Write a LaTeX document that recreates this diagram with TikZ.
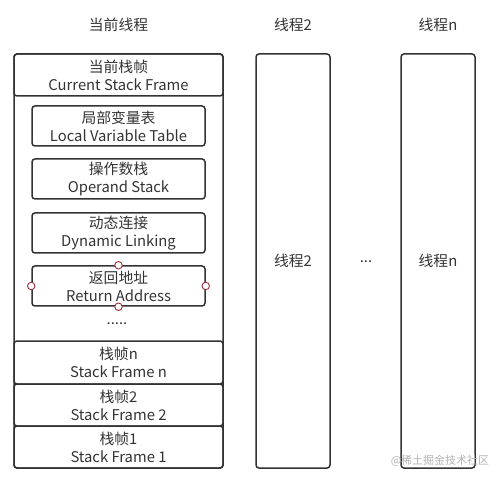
\documentclass[tikz,border=0pt]{standalone}
\usepackage{fontspec}
\setmainfont{Noto Sans CJK SC}
\definecolor{ln}{HTML}{333333}
\definecolor{hd}{HTML}{A0303F}
\begin{document}
\begin{tikzpicture}[x=1pt,y=-1pt,
  box/.style={draw=ln,line width=1.5pt,rounded corners=3pt,text=ln,align=center,inner sep=0pt,
    font=\fontsize{14.8}{18}\selectfont},
  lbl/.style={text=ln,font=\fontsize{14.8}{18}\selectfont,inner sep=0pt},
  handle/.style={circle,draw=hd,fill=white,line width=0.9pt,minimum size=7.5pt,inner sep=0pt}]
\useasboundingbox (0,0) rectangle (501,481);
% container
\node[box,minimum width=209pt,minimum height=414pt] (stack) at (118.5,261) {};
\node[box,minimum width=209pt,minimum height=42pt] (cur) at (118.5,75) {当前栈帧\\Current Stack Frame};
\node[box,minimum width=173pt,minimum height=40pt] (lvt) at (118.5,126) {局部变量表\\Local Variable Table};
\node[box,minimum width=173pt,minimum height=40pt] (ops) at (118.5,179) {操作数栈\\Operand Stack};
\node[box,minimum width=173pt,minimum height=40pt] (dyn) at (118.5,233) {动态连接\\Dynamic Linking};
\node[box,minimum width=173pt,minimum height=40pt] (ret) at (118.5,286) {返回地址\\Return Address};
\node[lbl] (dots) at (117,324) {.....};
\node[box,minimum width=209pt,minimum height=43pt] (fn) at (118.5,362.5) {栈帧n\\Stack Frame n};
\node[box,minimum width=209pt,minimum height=42pt] (f2) at (118.5,405) {栈帧2\\Stack Frame 2};
\node[box,minimum width=209pt,minimum height=42pt] (f1) at (118.5,447) {栈帧1\\Stack Frame 1};
% handles
\node[handle] (h1) at (ret.north) {};
\node[handle] (h2) at (ret.south) {};
\node[handle] (h3) at (ret.west) {};
\node[handle] (h4) at (ret.east) {};
% threads
\node[box,minimum width=74pt,minimum height=414pt] (t2) at (293,261) {线程2};
\node[box,minimum width=74pt,minimum height=414pt] (tn) at (438,261) {线程n};
\node[lbl] (mid) at (366,262) {...};
% titles
\node[lbl] (tt1) at (118.5,25) {当前线程};
\node[lbl] (tt2) at (293,25) {线程2};
\node[lbl] (tt3) at (438,25) {线程n};
% watermark
\node[text=black!30,font=\fontsize{11}{13}\selectfont,inner sep=0pt] (wm) at (440,461) {@稀土掘金技术社区};
\end{tikzpicture}
\end{document}
